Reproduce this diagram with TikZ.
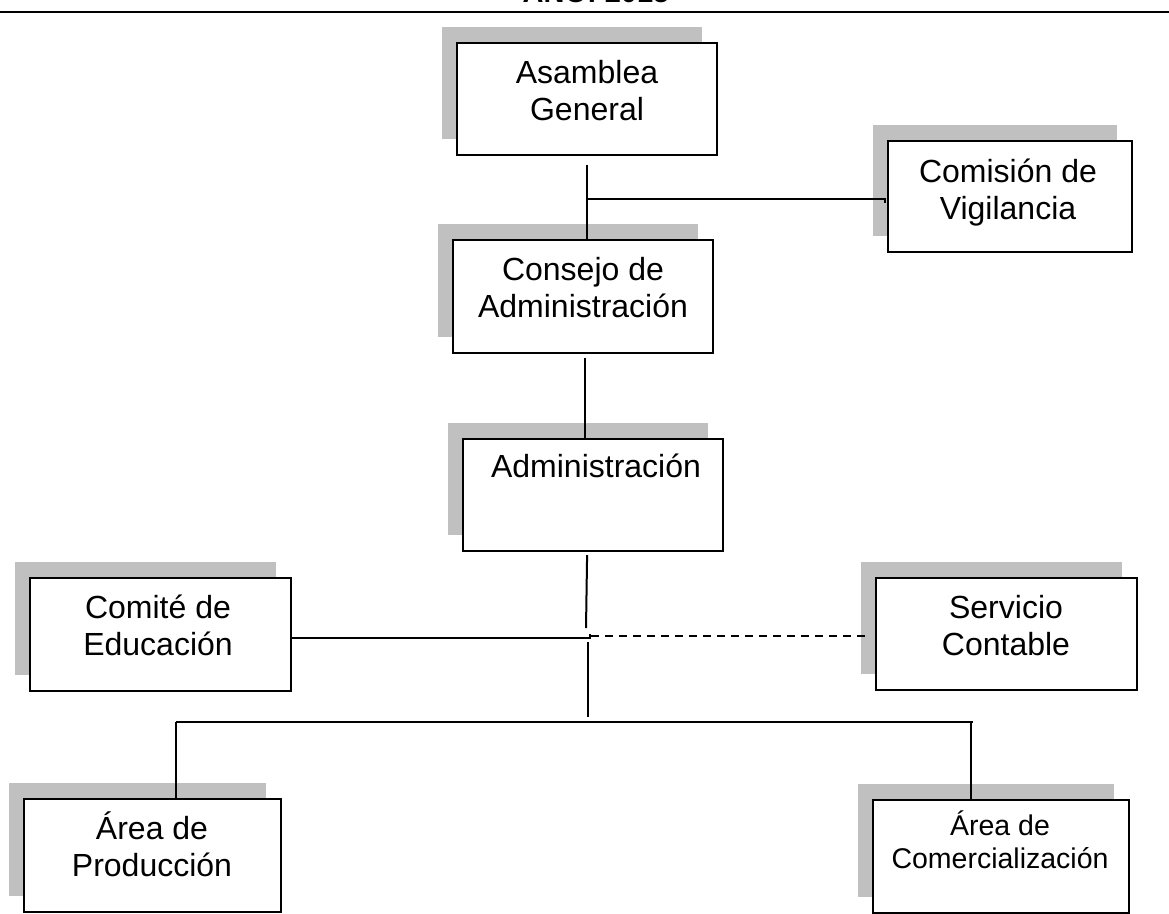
\documentclass[tikz,border=0pt]{standalone}
\usepackage{fontspec}
\setmainfont{Liberation Sans}
\usetikzlibrary{shadows,calc}
\definecolor{shgray}{RGB}{192,192,192}
\tikzset{
  orgbox/.style={draw=black, line width=2.2pt, fill=white, anchor=north west, inner sep=0pt,
    drop shadow={shadow xshift=-15.5pt, shadow yshift=16pt, opacity=1, fill=shgray}},
  lbl/.style={inner sep=0pt, anchor=base, font=\fontsize{32}{37}\selectfont},
  lblsmall/.style={inner sep=0pt, anchor=base, font=\fontsize{28.5}{33}\selectfont},
  conn/.style={line width=2pt, black},
  dconn/.style={line width=2pt, black, dash pattern=on 8pt off 6pt}
}
\begin{document}
\begin{tikzpicture}[x=1pt, y=-1pt]
\clip (0,0) rectangle (1169,913);
\fill[white] (0,0) rectangle (1169,913);
% title (cut off at the top edge) and rule
\node[inner sep=0pt, anchor=base, font=\fontsize{29}{33}\selectfont\bfseries] (title) at (596,2) {AÑO: 2015};
\draw[line width=2.5pt] (0,12) -- (1169,12);

% boxes
\node[orgbox, minimum width=260pt, minimum height=112pt] (ag) at (456,42) {};
\node[orgbox, minimum width=244pt, minimum height=111pt] (cv) at (887,140) {};
\node[orgbox, minimum width=260pt, minimum height=113pt] (ca) at (452,239) {};
\node[orgbox, minimum width=260pt, minimum height=112pt] (ad) at (462,438) {};
\node[orgbox, minimum width=261pt, minimum height=113pt] (ce) at (29,577) {};
\node[orgbox, minimum width=261pt, minimum height=112pt] (sc) at (875,577) {};
\node[orgbox, minimum width=257pt, minimum height=113pt] (ap) at (23,798) {};
\node[orgbox, minimum width=256pt, minimum height=113pt] (ac) at (872,799) {};

% labels
\node[lbl] (t-ag) at (587,83) {\begin{tabular}[t]{@{}c@{}}Asamblea\\General\end{tabular}};
\node[lbl] (t-cv) at (1008,182) {\begin{tabular}[t]{@{}c@{}}Comisión de\\Vigilancia\end{tabular}};
\node[lbl] (t-ca) at (583,280) {\begin{tabular}[t]{@{}c@{}}Consejo de\\Administración\end{tabular}};
\node[lbl] (t-ad) at (596,477) {Administración};
\node[lbl] (t-ce) at (158,618) {\begin{tabular}[t]{@{}c@{}}Comité de\\Educación\end{tabular}};
\node[lbl] (t-sc) at (1006,618) {\begin{tabular}[t]{@{}c@{}}Servicio\\Contable\end{tabular}};
\node[lbl] (t-ap) at (152,839) {\begin{tabular}[t]{@{}c@{}}Área de\\Producción\end{tabular}};
\node[lblsmall] (t-ac) at (1000,835) {\begin{tabular}[t]{@{}c@{}}Área de\\Comercialización\end{tabular}};

% connector coordinates
\coordinate (j1) at (586,199);
\coordinate (hub) at (588,637);
\coordinate (bl) at (176,722);
\coordinate (br) at (971,722);
\coordinate (cad) at ($(ca.south)+(2,0)$);

% Asamblea -> Consejo, branch to Comisión
\draw[conn] ($(ag.south)+(0,9)$) -- (ag.south |- ca.north);
\draw[conn] (j1) -- ($(cv.west |- j1)+(-2,0)$) -- ++(0,4);
% Consejo -> Administración
\draw[conn] ($(cad)+(0,4)$) -- (cad |- ad.north);
% Administración -> hub
\draw[conn] ($(ad.south)+(-6,3)$) -- ($(hub)+(-2,-9)$);
% Comité (solid) and Servicio (dashed)
\draw[conn] (ce.east |- 0,638) -- ($(hub)+(2,1)$) -- ++(0,-4);
\draw[dconn] ($(hub)+(3,-1)$) -- ($(sc.west |- hub)+(-5,-1)$);
% hub -> bus
\draw[conn] ($(hub)+(0,5)$) -- ($(hub |- bl)+(0,-5)$);
\draw[conn] (bl) -- ($(br)+(2,0)$);
\draw[conn] (bl) -- (bl |- ap.north);
\draw[conn] (br) -- (br |- ac.north);
\end{tikzpicture}
\end{document}
